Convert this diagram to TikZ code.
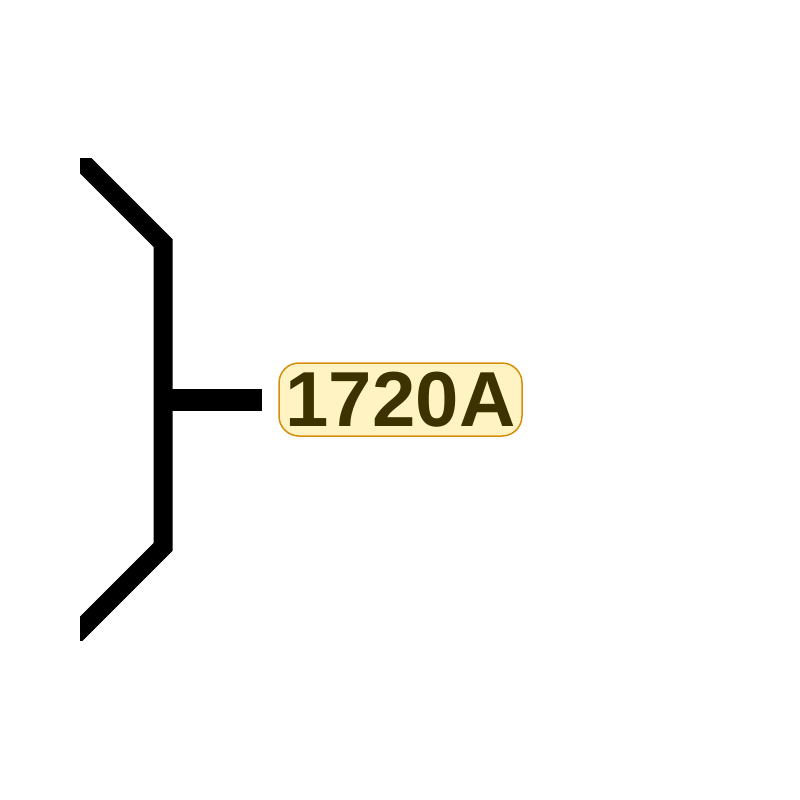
\documentclass[tikz,border=0pt]{standalone}
\usepackage{fontspec}
\setmainfont{Liberation Sans}
\definecolor{labelfill}{HTML}{FFF3C4}
\definecolor{labeledge}{HTML}{D4900A}
\definecolor{labeltext}{HTML}{3B3200}
\tikzset{
  bracket/.style={line width=19pt, black, line join=miter},
  stub/.style={line width=22pt, black},
  tag/.style={draw=labeledge, line width=1.5pt, fill=labelfill, rounded corners=20pt,
    minimum width=243pt, minimum height=73pt, inner sep=0pt,
    text=labeltext, font=\fontsize{78}{80}\selectfont\bfseries}
}
\begin{document}
\begin{tikzpicture}[x=1pt,y=-1pt]
\useasboundingbox (0,0) rectangle (800,800);
\begin{scope}
\clip (80,158) rectangle (800,640);
\draw[bracket] (60,140) -- (163,243) -- (163,547) -- (60,650);
\end{scope}
\coordinate (joint) at (163,400);
\node[tag] (lbl) at (400.5,399.5) {1720A};
\coordinate (stubend) at (262,400);
\draw[stub] (joint) -- (stubend);
\end{tikzpicture}
\end{document}
